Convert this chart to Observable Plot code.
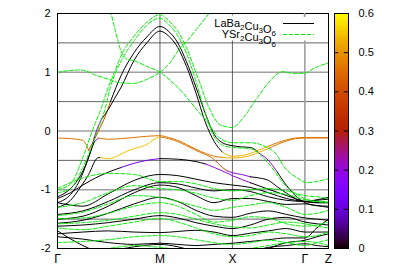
<!DOCTYPE html>
<html><head><meta charset="utf-8">
<script src="https://cdn.jsdelivr.net/npm/d3@7"></script>
<script src="https://cdn.jsdelivr.net/npm/@observablehq/plot@0.6"></script>
<style>
body{margin:0;background:#fff}
#wrap{position:relative;width:407px;height:271px;font-family:"Liberation Sans",Arial,sans-serif}
#wrap > *{position:absolute}
</style></head><body><div id="wrap"></div>
<script>
// k-path tick positions and labels
const kTicks = [0, 1.414, 2.414, 3.414, 3.74];
const kLabels = ["Γ", "M", "X", "Γ", "Z"];
const yTicks = [-2, -1, 0, 1, 2];
const cbTicks = [0, 0.1, 0.2, 0.3, 0.4, 0.5, 0.6];
const seriesNames = ["LaBa₂Cu₃O₆", "YSr₂Cu₃O₆"];

// LaBa2Cu3O6 upper bands: [k, E, weight]
const laA = [[0,-0.12,.46],[0.18,-0.13,.46],[0.35,-0.16,.46],[0.43,-0.33,.4],[0.566,0.0,.4],[0.662,0.26,.4],[0.731,0.5,0],[0.88,0.95,0],[1.055,1.33,0],[1.232,1.6,0],[1.414,1.78,0],[1.531,1.7,0],[1.66,1.5,0],[1.78,1.18,0],[1.91,0.75,0],[2.04,0.3,0],[2.163,-0.06,0],[2.276,-0.2,0],[2.414,-0.25,0],[2.538,-0.27,0],[2.662,-0.28,0],[2.786,-0.38,.2],[2.91,-0.5,.2],[3.034,-0.7,0],[3.163,-0.93,0],[3.283,-1.1,0],[3.414,-1.22,0],[3.572,-1.27,0],[3.74,-1.28,0]];
const laB = [[0,-1.12,0],[0.18,-0.98,0],[0.317,-0.76,0],[0.414,-0.5,0],[0.47,-0.3,0],[0.51,-0.1,.2],[0.552,0.05,.2],[0.607,0.2,0],[0.703,0.37,0],[0.786,0.55,0],[0.88,0.75,0],[1.055,1.2,0],[1.232,1.5,0],[1.414,1.70,0],[1.531,1.62,0],[1.66,1.42,0],[1.78,1.1,0],[1.91,0.65,0],[2.04,0.15,0],[2.163,-0.18,0],[2.276,-0.36,.53],[2.414,-0.43,.53],[2.538,-0.42,.53],[2.662,-0.38,.53],[2.786,-0.32,.53],[2.91,-0.26,.46],[3.034,-0.2,.46],[3.163,-0.15,.46],[3.283,-0.12,.46],[3.414,-0.11,.46],[3.74,-0.11,.46]];
const laC = [[0,-1.22,0],[0.18,-1.08,0],[0.29,-0.88,0],[0.386,-0.6,0],[0.455,-0.35,0],[0.51,-0.18,.2],[0.566,-0.12,.46],[0.703,-0.14,.46],[0.88,-0.13,.46],[1.055,-0.11,.46],[1.232,-0.09,.46],[1.414,-0.08,.46],[1.531,-0.11,.46],[1.66,-0.16,.46],[1.78,-0.23,.46],[1.91,-0.31,.46],[2.04,-0.38,.46],[2.163,-0.43,.46],[2.276,-0.45,.53],[2.414,-0.46,.53],[2.538,-0.45,.53],[2.662,-0.42,.53],[2.786,-0.36,.53],[2.91,-0.3,.46],[3.034,-0.23,.46],[3.163,-0.17,.46],[3.283,-0.13,.46],[3.414,-0.12,.46],[3.74,-0.12,.46]];
const laD = [[0,-1.3,0],[0.18,-1.18,0],[0.32,-0.95,0],[0.43,-0.74,0],[0.552,-0.46,0],[0.593,-0.45,.55],[0.703,-0.47,.55],[0.786,-0.45,.55],[0.88,-0.39,.55],[0.966,-0.34,.55],[1.055,-0.3,.55],[1.145,-0.27,.55],[1.232,-0.23,.55],[1.31,-0.16,.55],[1.414,-0.1,.46],[1.531,-0.13,.46],[1.66,-0.18,.46],[1.78,-0.25,.46],[1.91,-0.33,.46],[2.04,-0.4,.46],[2.11,-0.44,.46],[2.193,-0.52,.4],[2.276,-0.62,.4],[2.345,-0.68,.2],[2.414,-0.71,.2],[2.538,-0.74,.2],[2.662,-0.78,0],[2.786,-0.8,0],[2.91,-0.84,0],[3.034,-0.95,0],[3.163,-1.06,0],[3.283,-1.15,0],[3.414,-1.2,0],[3.572,-1.18,0],[3.74,-1.16,0]];
const laE = [[0,-1.15,0],[0.18,-1.05,0],[0.35,-0.92,0],[0.524,-0.8,0],[0.703,-0.7,0],[0.88,-0.62,.12],[1.055,-0.55,.12],[1.232,-0.5,.12],[1.414,-0.47,0],[1.66,-0.48,0],[1.91,-0.52,0],[2.04,-0.56,.2],[2.163,-0.62,.2],[2.276,-0.68,.2],[2.414,-0.76,.2],[2.662,-0.88,0],[2.91,-0.99,0],[3.163,-1.1,0],[3.414,-1.2,0],[3.572,-1.22,0],[3.74,-1.22,0]];

// YSr2Cu3O6 upper bands: [k, E]
const ysAb1 = [[0,-1.0],[0.18,-0.9],[0.35,-0.45],[0.48,0.0],[0.607,0.4],[0.703,0.75],[0.786,1.0],[0.883,1.3],[1.048,1.6],[1.232,1.85],[1.414,1.98],[1.531,1.88],[1.66,1.7],[1.78,1.42],[1.91,1.0],[1.972,0.8],[2.04,0.55],[2.11,0.35],[2.248,0.1],[2.414,0.06],[2.566,0.23],[2.759,0.57],[2.938,0.86],[3.103,1.01],[3.255,0.98],[3.393,0.98],[3.559,1.08],[3.74,1.16]];
const ysAb2 = [[0,-1.05],[0.18,-0.98],[0.35,-0.62],[0.55,0.0],[0.662,0.4],[0.731,0.75],[0.883,1.2],[1.048,1.52],[1.232,1.8],[1.414,1.92],[1.531,1.82],[1.66,1.62],[1.78,1.32],[1.91,0.85],[2.04,0.3],[2.163,-0.1],[2.276,-0.24],[2.414,-0.28],[2.662,-0.3],[2.91,-0.55],[3.163,-0.95],[3.414,-1.15],[3.572,-1.2],[3.74,-1.22]];
const ysC1 = [[0,1.0],[0.18,1.03],[0.32,1.04],[0.55,0.94],[0.703,0.88],[0.786,0.84],[0.883,0.82],[1.048,0.81],[1.232,0.88],[1.414,1.0],[1.559,1.17],[1.66,1.36],[1.78,1.52],[1.91,1.72],[2.04,1.92],[2.124,2.05]];
const ysC2 = [[0.731,2.05],[0.80,1.7],[0.88,1.35],[0.966,1.22],[1.048,1.2],[1.232,1.1],[1.414,1.0],[1.559,0.86],[1.738,0.64],[1.93,0.35],[2.07,0.15],[2.22,-0.1],[2.414,-0.2],[2.662,-0.2],[2.841,-0.25],[3.034,-0.42],[3.117,-0.59],[3.31,-0.8],[3.448,-0.88],[3.572,-0.86],[3.74,-0.81]];

// lower bands sampled on a common k grid
const kGrid = [0, 0.35, 0.70, 1.06, 1.414, 1.66, 1.91, 2.16, 2.414, 2.66, 2.91, 3.16, 3.414, 3.58, 3.74];
const laLow = [
  [-1.22,-1.28,-1.07,-0.84,-0.74,-0.76,-0.82,-0.88,-0.92,-0.96,-1.05,-1.15,-1.2,-1.22,-1.22],
  [-1.42,-1.36,-1.2,-1.0,-0.88,-0.9,-0.97,-1.02,-1.0,-1.03,-1.12,-1.18,-1.2,-1.17,-1.13],
  [-1.5,-1.45,-1.28,-1.05,-0.92,-0.96,-1.1,-1.22,-1.15,-1.15,-1.2,-1.25,-1.24,-1.27,-1.3],
  [-1.57,-1.52,-1.4,-1.24,-1.13,-1.2,-1.35,-1.45,-1.47,-1.4,-1.36,-1.42,-1.48,-1.5,-1.52],
  [-1.62,-1.6,-1.56,-1.5,-1.44,-1.48,-1.56,-1.62,-1.66,-1.6,-1.5,-1.47,-1.55,-1.58,-1.6],
  [-1.75,-1.72,-1.7,-1.72,-1.73,-1.71,-1.69,-1.72,-1.78,-1.74,-1.7,-1.66,-1.72,-1.72,-1.72],
  [-1.8,-1.84,-1.9,-1.93,-1.91,-1.93,-1.95,-1.93,-1.91,-1.88,-1.85,-1.82,-1.82,-1.65,-1.5],
  [-2.15,-2.12,-2.05,-1.97,-1.93,-1.97,-2.05,-2.1,-2.1,-2.05,-1.98,-1.95,-1.92,-1.95,-1.97],
  [-1.7,-1.95,-2.12,-2.2,-2.2,-2.2,-2.2,-2.2,-2.2,-2.12,-2.0,-1.9,-1.86,-1.8,-1.75]
];
const ysLow = [
  [-0.98,-0.8,-0.72,-0.74,-0.86,-0.86,-0.9,-0.98,-1.02,-1.0,-0.98,-1.02,-1.1,-1.12,-1.15],
  [-1.3,-1.22,-1.05,-0.93,-0.98,-1.0,-1.06,-1.14,-1.18,-1.1,-1.05,-1.08,-1.17,-1.2,-1.2],
  [-1.44,-1.38,-1.24,-1.1,-1.13,-1.2,-1.28,-1.35,-1.3,-1.26,-1.22,-1.3,-1.42,-1.4,-1.35],
  [-1.49,-1.48,-1.4,-1.28,-1.22,-1.28,-1.42,-1.55,-1.52,-1.46,-1.48,-1.58,-1.62,-1.6,-1.55],
  [-1.58,-1.56,-1.52,-1.45,-1.39,-1.42,-1.5,-1.58,-1.63,-1.65,-1.6,-1.55,-1.58,-1.62,-1.65],
  [-1.65,-1.68,-1.62,-1.55,-1.49,-1.55,-1.65,-1.75,-1.8,-1.78,-1.72,-1.75,-1.8,-1.78,-1.72],
  [-1.9,-1.88,-1.85,-1.8,-1.78,-1.8,-1.85,-1.9,-1.93,-1.9,-1.86,-1.9,-1.95,-1.9,-1.85],
  [-2.1,-2.05,-2.0,-1.95,-1.98,-2.02,-2.08,-2.1,-2.05,-2.0,-1.95,-1.9,-1.88,-1.9,-1.95]
];

// gnuplot default palette (rgbformulae 7,5,15)
const gnu = t => {
  t = Math.max(0, Math.min(1, t));
  const r = Math.sqrt(t), g = t * t * t, b = Math.max(0, Math.sin(2 * Math.PI * t));
  return `rgb(${Math.round(r*255)},${Math.round(g*255)},${Math.round(b*255)})`;
};
const colorOpt = {type: "linear", domain: [0, 0.6], interpolate: gnu};

const laRows = [
  ...[laA, laB, laC, laD, laE].flatMap((b, i) => b.map(([k, E, w]) => ({band: "u" + i, k, E, w}))),
  ...laLow.flatMap((v, i) => v.map((E, j) => ({band: "l" + i, k: kGrid[j], E, w: 0})))
];
const ysRows = [
  ...[ysAb1, ysAb2, ysC1, ysC2].flatMap((b, i) => b.map(([k, E]) => ({band: "u" + i, k, E}))),
  ...ysLow.flatMap((v, i) => v.map((E, j) => ({band: "l" + i, k: kGrid[j], E})))
];

const wrap = document.getElementById("wrap");
const font = "Liberation Sans, Arial, sans-serif";

const main = Plot.plot({
  width: 407, height: 271,
  marginLeft: 57, marginRight: 79, marginTop: 13, marginBottom: 23,
  style: {fontFamily: font, fontSize: "11px", background: "transparent", color: "#000"},
  x: {domain: [0, 3.74], axis: null, label: null},
  y: {domain: [-2, 2], axis: null, label: null},
  color: colorOpt,
  marks: [
    Plot.ruleY([-1.5, -0.5, 0.5, 1.5], {stroke: "#222", strokeWidth: 0.7}),
    Plot.ruleY([-1, 0, 1], {stroke: "#a0a0a0", strokeWidth: 1.6}),
    Plot.ruleX(kTicks.slice(1, 3), {stroke: "#222", strokeWidth: 0.7}),
    Plot.ruleX(kTicks.slice(3, 4), {stroke: "#a0a0a0", strokeWidth: 1.6}),
    Plot.line(laRows, {x: "k", y: "E", z: "band", stroke: "w", strokeWidth: 1, curve: "monotone-x", clip: true}),
    Plot.line(ysRows, {x: "k", y: "E", z: "band", stroke: "#00ee00", strokeWidth: 1, strokeDasharray: "4,2", curve: "monotone-x", clip: true}),
    Plot.frame({stroke: "#000"}),
    Plot.axisX({ticks: kTicks, tickFormat: (d, i) => kLabels[i], tickSize: 0, tickPadding: 6, fontSize: 12, label: null}),
    Plot.axisY({ticks: yTicks, tickFormat: d => String(d), tickSize: 0, tickPadding: 7, label: null})
  ]
});
main.style.left = "0px"; main.style.top = "0px";
wrap.appendChild(main);

const cbStep = 0.005;
const cbSamples = d3.range(0, 0.6, cbStep);
const cb = Plot.plot({
  width: 87, height: 271,
  marginLeft: 14, marginRight: 59, marginTop: 13, marginBottom: 23,
  style: {fontFamily: font, fontSize: "11px", background: "transparent", color: "#000"},
  x: {domain: [0, 1], axis: null},
  y: {domain: [0, 0.6], axis: null},
  color: colorOpt,
  marks: [
    Plot.rect(cbSamples, {x1: 0, x2: 1, y1: d => d, y2: d => Math.min(0.6, d + cbStep * 1.2), fill: d => d + cbStep / 2, shapeRendering: "crispEdges"}),
    Plot.ruleY(cbTicks.slice(1, -1), {x1: 0, x2: 0.3, stroke: "#000"}),
    Plot.ruleY(cbTicks.slice(1, -1), {x1: 0.7, x2: 1, stroke: "#000"}),
    Plot.frame({stroke: "#000"}),
    Plot.axisY({anchor: "right", ticks: cbTicks, tickFormat: d => d === 0 ? "0" : d.toFixed(1), tickSize: 0, tickPadding: 10, label: null})
  ]
});
cb.style.left = "320px"; cb.style.top = "0px";
wrap.appendChild(cb);

// legend (opaque key box inside the plot)
const ns = "http://www.w3.org/2000/svg";
const leg = document.createElementNS(ns, "svg");
leg.setAttribute("width", 407); leg.setAttribute("height", 271);
leg.style.left = "0px"; leg.style.top = "0px";
function legendText(name) {
  const map = {"₂": "2", "₃": "3", "₆": "6"};
  let html = "";
  for (const ch of name) {
    if (map[ch]) html += `<tspan dy="3" font-size="8">${map[ch]}</tspan><tspan dy="-3"></tspan>`;
    else html += ch;
  }
  return html;
}
leg.innerHTML = `
  <rect x="209" y="15.5" width="111" height="25" fill="#fff"/>
  <g font-family="${font}" font-size="11" text-anchor="end" fill="#000">
    <text x="276" y="26.5">${legendText(seriesNames[0])}</text>
    <text x="276" y="37.5">${legendText(seriesNames[1])}</text>
  </g>
  <line x1="283" x2="314" y1="23.5" y2="23.5" stroke="#000" stroke-width="1"/>
  <line x1="283" x2="314" y1="34.5" y2="34.5" stroke="#00ee00" stroke-width="1" stroke-dasharray="4,2"/>
  <line x1="304.5" x2="304.5" y1="13" y2="17" stroke="#a0a0a0" stroke-width="1.6"/>
`;
wrap.appendChild(leg);
</script></body></html>
